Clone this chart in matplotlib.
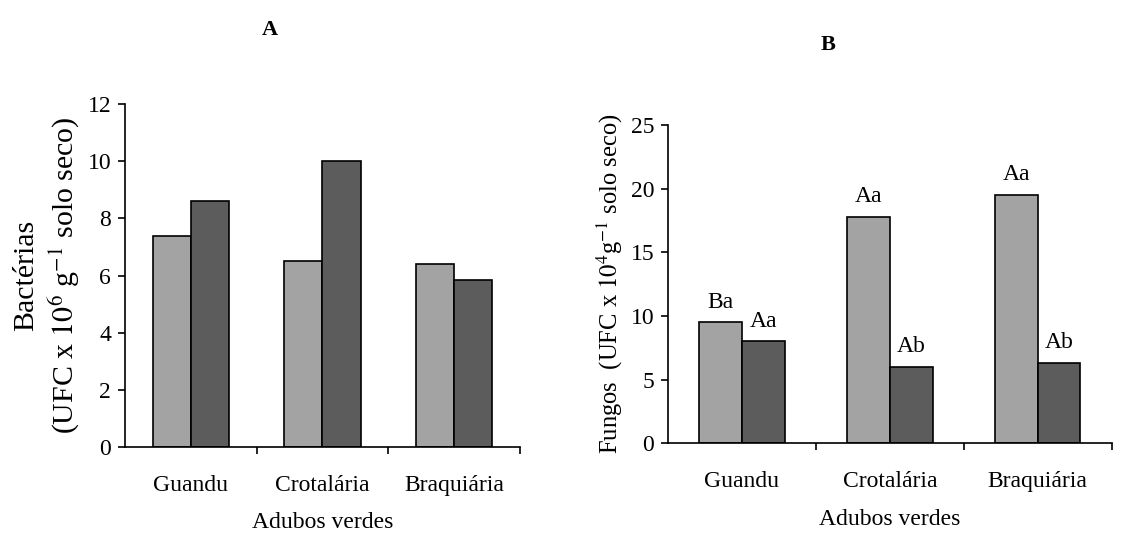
import numpy as np
import matplotlib
matplotlib.use('Agg')
import matplotlib.pyplot as plt
from matplotlib import rcParams
from matplotlib.ticker import FixedLocator, NullFormatter

rcParams['font.family'] = ['Liberation Serif', 'DejaVu Serif']
rcParams['mathtext.fontset'] = 'stix'
rcParams['font.size'] = 17

# dados
adubos = ['Guandu', 'Crotalária', 'Braquiária']
bact_claro = [7.4, 6.5, 6.4]
bact_escuro = [8.6, 10.0, 5.85]
fungos_claro = [9.5, 17.8, 19.5]
fungos_escuro = [8.0, 6.0, 6.3]
letras_claro = ['Ba', 'Aa', 'Aa']
letras_escuro = ['Aa', 'Ab', 'Ab']

COR_CLARO = '#a3a3a3'
COR_ESCURO = '#5c5c5c'
LARG = 0.29

fig = plt.figure(figsize=(11.4, 5.34), dpi=100)
axA = fig.add_axes([0.1096, 0.163, 0.3464, 0.642])
axB = fig.add_axes([0.586, 0.170, 0.389, 0.596])


def estilo(ax, ymax, ystep):
    x = np.arange(len(adubos)) + 0.5
    ax.set_xlim(0, len(adubos))
    ax.set_ylim(0, ymax)
    ax.set_yticks(np.arange(0, ymax + 0.1, ystep))
    ax.set_xticks(x)
    ax.set_xticklabels(adubos)
    ax.xaxis.set_minor_locator(FixedLocator(np.arange(1, len(adubos) + 1)))
    ax.xaxis.set_minor_formatter(NullFormatter())
    ax.tick_params(axis='x', which='major', length=0, pad=20)
    ax.tick_params(axis='x', which='minor', length=5, direction='out', width=1.2)
    ax.tick_params(axis='y', length=5, direction='out', width=1.2, pad=5)
    for s in ['top', 'right']:
        ax.spines[s].set_visible(False)
    for s in ['left', 'bottom']:
        ax.spines[s].set_linewidth(1.2)
    ax.set_xlabel('Adubos verdes', labelpad=12)
    return x


# ---- A: bactérias
x = estilo(axA, 12, 2)
axA.bar(x - LARG / 2, bact_claro, LARG, color=COR_CLARO, edgecolor='black', linewidth=1.2)
axA.bar(x + LARG / 2, bact_escuro, LARG, color=COR_ESCURO, edgecolor='black', linewidth=1.2)
axA.set_ylabel('Bactérias\n(UFC x $10^{6}$ g$^{-1}$ solo seco)', fontsize=21.5, labelpad=4,
               linespacing=1.25)

# ---- B: fungos
x = estilo(axB, 25, 5)
axB.bar(x - LARG / 2, fungos_claro, LARG, color=COR_CLARO, edgecolor='black', linewidth=1.2)
axB.bar(x + LARG / 2, fungos_escuro, LARG, color=COR_ESCURO, edgecolor='black', linewidth=1.2)
for xi, v, t in zip(x - LARG / 2, fungos_claro, letras_claro):
    axB.annotate(t, (xi, v), xytext=(0, 7), textcoords='offset points',
                 ha='center', va='bottom', fontsize=17)
for xi, v, t in zip(x + LARG / 2, fungos_escuro, letras_escuro):
    axB.annotate(t, (xi, v), xytext=(0, 7), textcoords='offset points',
                 ha='center', va='bottom', fontsize=17)
axB.set_ylabel('Fungos  (UFC x $10^{4}$g$^{-1}$ solo seco)', fontsize=17.7, labelpad=4)

fig.text(270 / 1140, 1 - 30 / 534, 'A', ha='center', va='center', fontsize=16, fontweight='bold')
fig.text(828 / 1140, 1 - 45 / 534, 'B', ha='center', va='center', fontsize=16, fontweight='bold')

fig.savefig('out.png', dpi=100, facecolor='white')
